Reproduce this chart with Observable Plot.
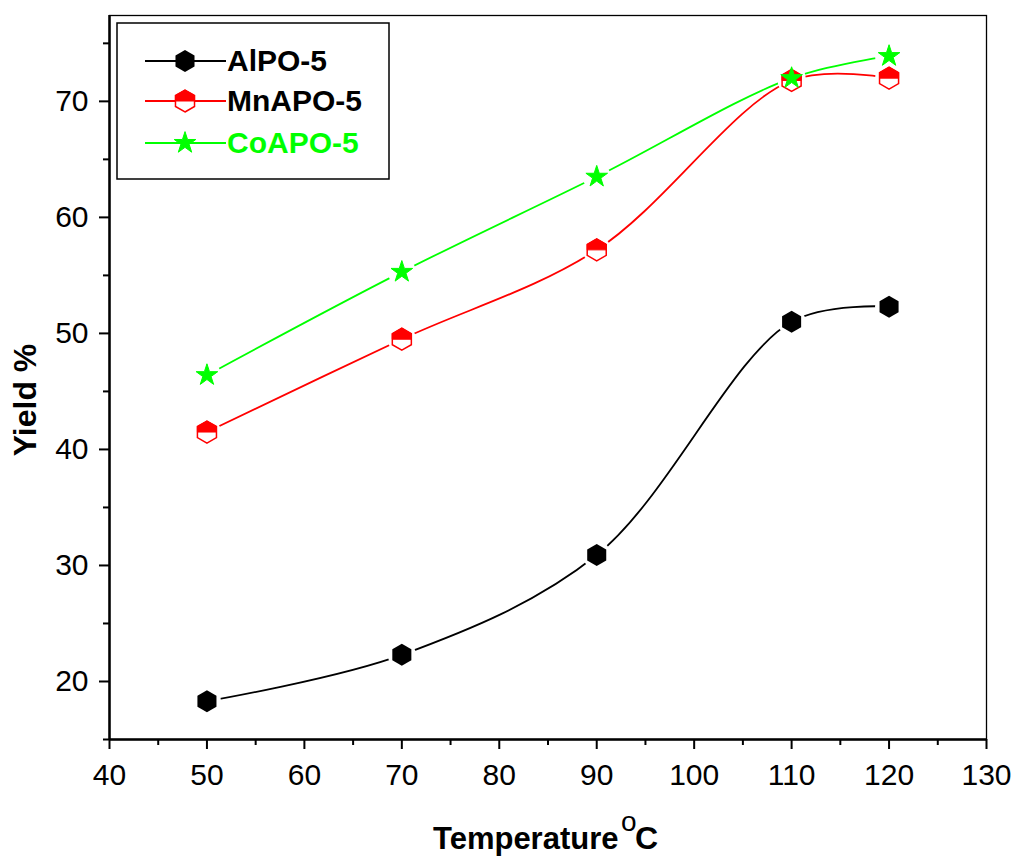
<!DOCTYPE html>
<html>
<head>
<meta charset="utf-8">
<script src="https://cdn.jsdelivr.net/npm/d3@7"></script>
<script src="https://cdn.jsdelivr.net/npm/@observablehq/plot@0.6"></script>
<style>
  html, body { margin: 0; padding: 0; background: #fff; }
  #chart { position: relative; width: 1016px; height: 858px; }
</style>
</head>
<body>
<div id="chart"></div>
<script>
// Reaction temperature (°C) and yield (%) for each catalyst
const temperatures = [50, 70, 90, 110, 120];
const yieldAlPO5 = [18.3, 22.3, 30.9, 51.0, 52.3];
const yieldMnAPO5 = [41.5, 49.5, 57.2, 71.8, 72.0];
const yieldCoAPO5 = [46.4, 55.3, 63.5, 72.0, 73.9];

const seriesNames = ["AlPO-5", "MnAPO-5", "CoAPO-5"];
const seriesColors = ["#000000", "#ff0000", "#00ff00"];

const xTicks = [40, 50, 60, 70, 80, 90, 100, 110, 120, 130];
const xMinorTicks = [45, 55, 65, 75, 85, 95, 105, 115, 125];
const yTicks = [20, 30, 40, 50, 60, 70];
const yMinorTicks = [15, 25, 35, 45, 55, 65, 75];

const seriesValues = [yieldAlPO5, yieldMnAPO5, yieldCoAPO5];
const rows = seriesNames.flatMap((name, i) =>
  temperatures.map((t, j) => ({series: name, temp: t, yield: seriesValues[i][j]}))
);
const rowsOf = (name) => rows.filter((d) => d.series === name);

// Pointy-top hexagon and its upper half (for the half-filled marker)
const hexagon = {
  draw(ctx, size) {
    const rx = Math.sqrt(size / (2 * Math.sqrt(3))), ry = rx * 2 / Math.sqrt(3), hy = ry / 2;
    ctx.moveTo(0, ry); ctx.lineTo(rx, hy); ctx.lineTo(rx, -hy);
    ctx.lineTo(0, -ry); ctx.lineTo(-rx, -hy); ctx.lineTo(-rx, hy); ctx.closePath();
  }
};
const hexagonTop = {
  draw(ctx, size) {
    const rx = Math.sqrt(size / (2 * Math.sqrt(3))), ry = rx * 2 / Math.sqrt(3), hy = ry / 2;
    ctx.moveTo(-rx, 0); ctx.lineTo(-rx, -hy); ctx.lineTo(0, -ry);
    ctx.lineTo(rx, -hy); ctx.lineTo(rx, 0); ctx.closePath();
  }
};

const HEX_R = 10, STAR_R = 6.8, GAP_R = 14;

const svg = Plot.plot({
  width: 1016,
  height: 858,
  marginLeft: 109,
  marginRight: 30,
  marginTop: 15,
  marginBottom: 119,
  x: {domain: [40, 130]},
  y: {domain: [15, 77.4]},
  color: {domain: seriesNames, range: seriesColors},
  style: {fontFamily: "'Liberation Sans', Arial, sans-serif", fontSize: "30px", background: "#fff", color: "#000"},
  marks: [
    Plot.frame({stroke: "#000", strokeWidth: 1.3}),
    // spline curves through the measurements
    Plot.line(rows, {x: "temp", y: "yield", z: "series", stroke: "series", strokeWidth: 1.8, curve: "catmull-rom"}),
    // white gaps between curves and markers
    Plot.dot(rows, {x: "temp", y: "yield", r: GAP_R, fill: "#fff", stroke: "none"}),
    // markers
    Plot.dot(rowsOf("AlPO-5"), {x: "temp", y: "yield", symbol: hexagon, r: HEX_R, fill: "#000"}),
    Plot.dot(rowsOf("MnAPO-5"), {x: "temp", y: "yield", symbol: hexagon, r: HEX_R, fill: "#fff", stroke: "#ff0000", strokeWidth: 1.5}),
    Plot.dot(rowsOf("MnAPO-5"), {x: "temp", y: "yield", symbol: hexagonTop, r: HEX_R, fill: "#ff0000", stroke: "#ff0000", strokeWidth: 1}),
    Plot.dot(rowsOf("CoAPO-5"), {x: "temp", y: "yield", symbol: "star", r: STAR_R, fill: "#00ff00", stroke: "#00ff00", strokeWidth: 1}),
    // axes
    Plot.axisX({ticks: xTicks, tickSize: 10, tickPadding: 14, strokeWidth: 2, label: null, tickFormat: (d) => d}),
    Plot.axisX({ticks: xMinorTicks, tickSize: 6, strokeWidth: 2, label: null, tickFormat: () => ""}),
    Plot.axisY({ticks: yTicks, tickSize: 10, tickPadding: 11, strokeWidth: 2, label: null, tickFormat: (d) => d}),
    Plot.axisY({ticks: yMinorTicks, tickSize: 6, strokeWidth: 2, label: null, tickFormat: () => ""}),
    Plot.ruleX([40], {stroke: "#000", strokeWidth: 2.5}),
    Plot.ruleY([15], {stroke: "#000", strokeWidth: 2.5})
  ]
});

document.getElementById("chart").appendChild(svg);

const root = d3.select(svg);

// Axis titles
root.append("text")
  .attr("transform", "translate(36,400) rotate(-90)")
  .attr("text-anchor", "middle")
  .attr("font-size", 32).attr("font-weight", "bold").attr("fill", "#000")
  .text("Yield %");

const xTitle = root.append("g").attr("fill", "#000").attr("text-anchor", "start");
xTitle.append("text").attr("x", 433).attr("y", 849)
  .attr("font-size", 31).attr("font-weight", "bold").text("Temperature");
xTitle.append("text").attr("x", 621).attr("y", 831)
  .attr("font-size", 28).text("o");
xTitle.append("text").attr("x", 635).attr("y", 849)
  .attr("font-size", 32).attr("font-weight", "bold").text("C");

// Legend box
const legend = root.append("g").attr("text-anchor", "start");
legend.append("rect")
  .attr("x", 117).attr("y", 23).attr("width", 272).attr("height", 156)
  .attr("fill", "#fff").attr("stroke", "#000").attr("stroke-width", 1.5);

const legendRows = [
  {name: "AlPO-5", color: "#000000", text: "#000000", cy: 61},
  {name: "MnAPO-5", color: "#ff0000", text: "#000000", cy: 101},
  {name: "CoAPO-5", color: "#00ff00", text: "#00ff00", cy: 143}
];
const hexSize = HEX_R * HEX_R * Math.PI;
const starSize = STAR_R * STAR_R * Math.PI;
legendRows.forEach((e) => {
  const g = legend.append("g");
  g.append("line").attr("x1", 145).attr("x2", 226).attr("y1", e.cy).attr("y2", e.cy)
    .attr("stroke", e.color).attr("stroke-width", 1.8);
  const m = g.append("g").attr("transform", `translate(185,${e.cy})`);
  if (e.name === "AlPO-5") {
    m.append("path").attr("d", d3.symbol(hexagon, hexSize)()).attr("fill", "#000");
  } else if (e.name === "MnAPO-5") {
    m.append("path").attr("d", d3.symbol(hexagon, hexSize)()).attr("fill", "#fff")
      .attr("stroke", "#ff0000").attr("stroke-width", 1.5);
    m.append("path").attr("d", d3.symbol(hexagonTop, hexSize)()).attr("fill", "#ff0000")
      .attr("stroke", "#ff0000").attr("stroke-width", 1);
  } else {
    m.append("path").attr("d", d3.symbol(d3.symbolStar, starSize)()).attr("fill", "#00ff00")
      .attr("stroke", "#00ff00").attr("stroke-width", 1);
  }
  g.append("text").attr("x", 227).attr("y", e.cy + 10)
    .attr("font-size", 30).attr("font-weight", "bold").attr("fill", e.text)
    .text(e.name);
});
</script>
</body>
</html>
